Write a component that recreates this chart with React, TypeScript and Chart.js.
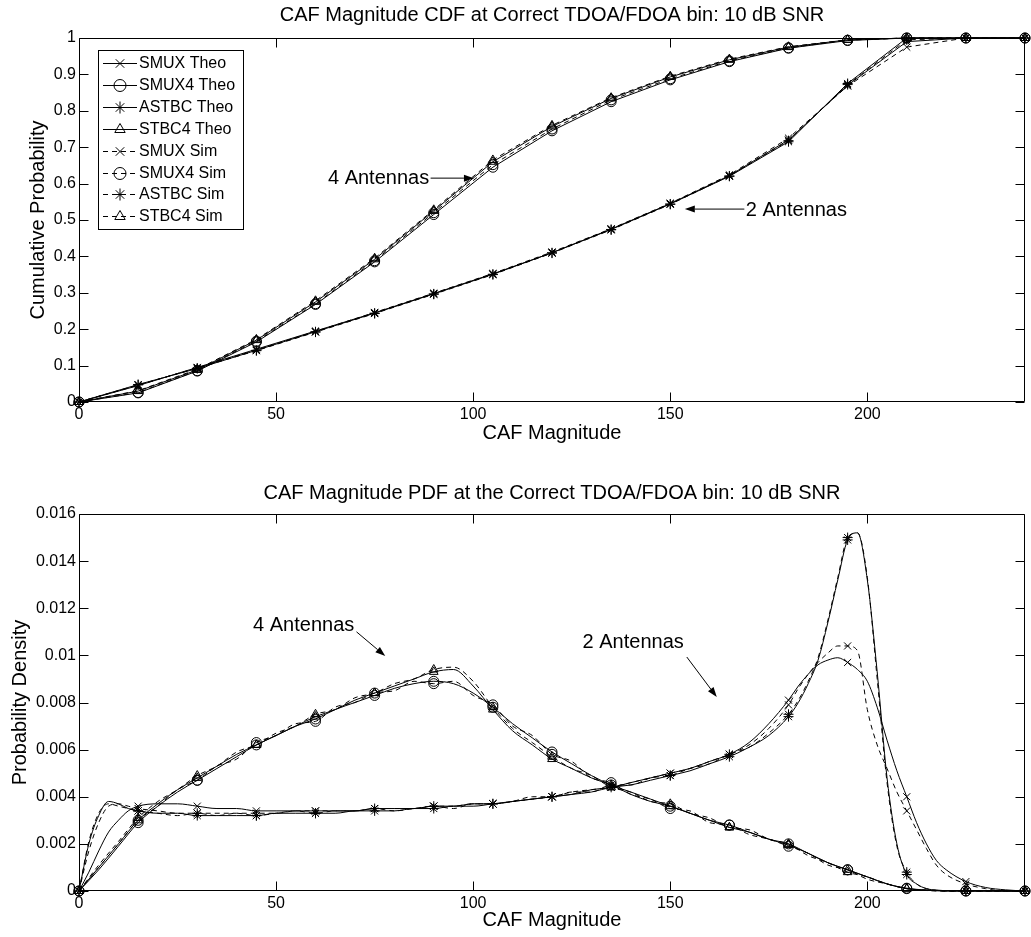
import React, { useEffect, useRef } from "react";
import { Chart, registerables } from "chart.js";
import { drawPoint } from "chart.js/helpers";

Chart.register(...registerables);

const FONT = '"Liberation Sans", Arial, Helvetica, sans-serif';

// ---------------- data ----------------
const xTickValues = [0, 50, 100, 150, 200];
const xTickLabels = ["0", "50", "100", "150", "200"];

const cdfYTickValues = [0, 0.1, 0.2, 0.3, 0.4, 0.5, 0.6, 0.7, 0.8, 0.9, 1];
const cdfYTickLabels = ["0", "0.1", "0.2", "0.3", "0.4", "0.5", "0.6", "0.7", "0.8", "0.9", "1"];

const pdfYTickValues = [0, 0.002, 0.004, 0.006, 0.008, 0.01, 0.012, 0.014, 0.016];
const pdfYTickLabels = ["0", "0.002", "0.004", "0.006", "0.008", "0.01", "0.012", "0.014", "0.016"];

const seriesLabels = ["SMUX Theo", "SMUX4 Theo", "ASTBC Theo", "STBC4 Theo", "SMUX Sim", "SMUX4 Sim", "ASTBC Sim", "STBC4 Sim"];

// CDF (markers every 15)
const cdfX = [0, 15, 30, 45, 60, 75, 90, 105, 120, 135, 150, 165, 180, 195, 210, 225, 240];
const cdfSmuxTheo = [0, 0.045, 0.095, 0.145, 0.195, 0.245, 0.298, 0.352, 0.41, 0.475, 0.545, 0.622, 0.72, 0.87, 0.99, 1, 1];
const cdfSmux4Theo = [0, 0.025, 0.085, 0.165, 0.268, 0.385, 0.515, 0.645, 0.745, 0.825, 0.885, 0.935, 0.972, 0.993, 1, 1, 1];
const cdfAstbcTheo = [0, 0.048, 0.092, 0.142, 0.193, 0.244, 0.297, 0.351, 0.41, 0.474, 0.544, 0.62, 0.715, 0.875, 1, 1, 1];
const cdfStbc4Theo = [0, 0.03, 0.088, 0.17, 0.275, 0.392, 0.525, 0.66, 0.757, 0.834, 0.893, 0.94, 0.975, 0.995, 1, 1, 1];
const cdfSmuxSim = [0, 0.046, 0.094, 0.143, 0.194, 0.246, 0.299, 0.353, 0.412, 0.476, 0.546, 0.624, 0.725, 0.868, 0.975, 1, 1];
const cdfSmux4Sim = [0, 0.026, 0.086, 0.167, 0.27, 0.388, 0.52, 0.652, 0.75, 0.83, 0.888, 0.937, 0.973, 0.994, 1, 1, 1];
const cdfAstbcSim = [0, 0.047, 0.093, 0.141, 0.192, 0.243, 0.296, 0.35, 0.409, 0.473, 0.543, 0.621, 0.718, 0.872, 0.995, 1, 1];
const cdfStbc4Sim = [0, 0.031, 0.09, 0.172, 0.278, 0.395, 0.528, 0.665, 0.76, 0.836, 0.895, 0.942, 0.976, 0.995, 1, 1, 1];

// PDF, 2 antennas (finer sampling near the sharp parts)
const pdfX2 = [0, 2.5, 5, 7.5, 10, 12.5, 15, 20, 25, 30, 35, 40, 45, 50, 55, 60, 65, 70, 75, 80, 85, 90, 95, 100, 105, 110, 115, 120, 125, 130, 135, 140, 145, 150, 155, 160, 165, 170, 175, 180, 182.5, 185, 187.5, 190, 192.5, 195, 197.5, 200, 202.5, 205, 207.5, 210, 212.5, 215, 217.5, 220, 225, 230, 235, 240];
const pdfSmuxTheo = [0, 0.0008, 0.0017, 0.0025, 0.0030, 0.0034, 0.0036, 0.0037, 0.0037, 0.0036, 0.0035, 0.0035, 0.0034, 0.0034, 0.0034, 0.0034, 0.0034, 0.0034, 0.0035, 0.0035, 0.0035, 0.0036, 0.0036, 0.0037, 0.0037, 0.0038, 0.0039, 0.0040, 0.0041, 0.0043, 0.0044, 0.0046, 0.0048, 0.0050, 0.0052, 0.0055, 0.0058, 0.0063, 0.0071, 0.0081, 0.0087, 0.0092, 0.0096, 0.0098, 0.0099, 0.0097, 0.0094, 0.0089, 0.0078, 0.0064, 0.0051, 0.0040, 0.0029, 0.0020, 0.0013, 0.0009, 0.0004, 0.00015, 0.00005, 0];
const pdfAstbcTheo = [0, 0.0020, 0.0032, 0.0038, 0.0037, 0.0035, 0.0034, 0.0033, 0.0033, 0.0032, 0.0032, 0.0032, 0.0032, 0.0033, 0.0033, 0.0033, 0.0033, 0.0034, 0.0034, 0.0034, 0.0035, 0.0035, 0.0036, 0.0036, 0.0037, 0.0038, 0.0039, 0.0040, 0.0041, 0.0042, 0.0044, 0.0045, 0.0047, 0.0049, 0.0051, 0.0054, 0.0057, 0.0061, 0.0066, 0.0074, 0.0080, 0.0088, 0.0098, 0.0114, 0.0132, 0.0149, 0.0152, 0.0132, 0.0093, 0.0048, 0.0020, 0.0007, 0.0003, 0.0001, 0.00004, 0.00001, 0, 0, 0, 0];
const pdfSmuxSim = [0, 0.0017, 0.0029, 0.0036, 0.0037, 0.0036, 0.0035, 0.0034, 0.0033, 0.0033, 0.0033, 0.0033, 0.0033, 0.0033, 0.0034, 0.0034, 0.0034, 0.0034, 0.0035, 0.0035, 0.0035, 0.0036, 0.0036, 0.0037, 0.0037, 0.0038, 0.0039, 0.0040, 0.0042, 0.0043, 0.0044, 0.0046, 0.0048, 0.0050, 0.0052, 0.0055, 0.0058, 0.0062, 0.0069, 0.0079, 0.0086, 0.0092, 0.0097, 0.0101, 0.0104, 0.0104, 0.0102, 0.0077, 0.0062, 0.0052, 0.0042, 0.0034, 0.0026, 0.0018, 0.0011, 0.0007, 0.0003, 0.0001, 0, 0];
const pdfAstbcSim = [0, 0.0021, 0.0033, 0.0037, 0.0036, 0.0035, 0.0034, 0.0033, 0.0032, 0.0033, 0.0032, 0.0033, 0.0032, 0.0033, 0.0034, 0.0033, 0.0034, 0.0034, 0.0035, 0.0034, 0.0035, 0.0036, 0.0035, 0.0037, 0.0037, 0.0038, 0.0040, 0.0040, 0.0042, 0.0042, 0.0045, 0.0045, 0.0048, 0.0049, 0.0052, 0.0054, 0.0058, 0.0061, 0.0067, 0.0075, 0.0081, 0.0089, 0.0099, 0.0115, 0.0133, 0.0150, 0.0152, 0.0133, 0.0090, 0.0046, 0.0019, 0.0008, 0.0003, 0.0001, 0.00003, 0, 0, 0, 0, 0];

// PDF, 4 antennas
const pdfX4 = [0, 5, 10, 15, 20, 25, 30, 35, 40, 45, 50, 55, 60, 65, 70, 75, 80, 85, 90, 95, 100, 105, 110, 115, 120, 125, 130, 135, 140, 145, 150, 155, 160, 165, 170, 175, 180, 185, 190, 195, 200, 205, 210, 215, 220, 225, 230, 235, 240];
const pdfSmux4Theo = [0, 0.0009, 0.0019, 0.0029, 0.0036, 0.0042, 0.0047, 0.0052, 0.0057, 0.0062, 0.0066, 0.0070, 0.0073, 0.0077, 0.0080, 0.0083, 0.0086, 0.0088, 0.0089, 0.0088, 0.0084, 0.0078, 0.0071, 0.0065, 0.0059, 0.0054, 0.0049, 0.0045, 0.0042, 0.0039, 0.0036, 0.0033, 0.0030, 0.0028, 0.0025, 0.0022, 0.0020, 0.0016, 0.0012, 0.0009, 0.0006, 0.0003, 0.00012, 0.00004, 0.00001, 0, 0, 0, 0];
const pdfStbc4Theo = [0, 0.0010, 0.0020, 0.0030, 0.0037, 0.0043, 0.0048, 0.0053, 0.0058, 0.0062, 0.0066, 0.0070, 0.0074, 0.0077, 0.0081, 0.0084, 0.0087, 0.0090, 0.0093, 0.0094, 0.0087, 0.0077, 0.0068, 0.0062, 0.0056, 0.0052, 0.0048, 0.0045, 0.0041, 0.0038, 0.0036, 0.0033, 0.0030, 0.0027, 0.0025, 0.0022, 0.00195, 0.0016, 0.0012, 0.0009, 0.0006, 0.0003, 0.0001, 0.00003, 0, 0, 0, 0, 0];
const pdfSmux4Sim = [0, 0.0010, 0.0020, 0.0030, 0.0036, 0.0043, 0.0047, 0.0053, 0.0056, 0.0063, 0.0066, 0.0071, 0.0072, 0.0078, 0.0080, 0.0084, 0.0085, 0.0089, 0.0088, 0.0089, 0.0083, 0.0079, 0.0070, 0.0066, 0.0058, 0.0055, 0.0048, 0.0046, 0.0041, 0.0039, 0.0035, 0.0034, 0.0029, 0.0028, 0.0024, 0.0022, 0.0019, 0.0016, 0.0011, 0.0009, 0.0005, 0.0003, 0.0001, 0.00004, 0, 0, 0, 0, 0];
const pdfStbc4Sim = [0, 0.0011, 0.0021, 0.0031, 0.0038, 0.0043, 0.0049, 0.0053, 0.0059, 0.0062, 0.0067, 0.0070, 0.0075, 0.0077, 0.0082, 0.0084, 0.0088, 0.0090, 0.0094, 0.0095, 0.0089, 0.0078, 0.0069, 0.0063, 0.0057, 0.0052, 0.0049, 0.0044, 0.0042, 0.0038, 0.0037, 0.0033, 0.0031, 0.0027, 0.0026, 0.0022, 0.0020, 0.0015, 0.0012, 0.0008, 0.0006, 0.0003, 0.0001, 0.00002, 0, 0, 0, 0, 0];

// annotation texts (positions in data units, kept separate)
const cdfNotes = [
  { text: "4 Antennas", tx: 76, ty: 0.613, ax0: 89.2, ay0: 0.615, ax1: 100.2, ay1: 0.615 },
  { text: "2 Antennas", tx: 182, ty: 0.527, ax0: 168.8, ay0: 0.53, ax1: 153.7, ay1: 0.53 },
];
const pdfNotes = [
  { text: "4 Antennas", tx: 57, ty: 0.01125, ax0: 70.4, ay0: 0.0110, ax1: 77.7, ay1: 0.00997 },
  { text: "2 Antennas", tx: 140.6, ty: 0.01053, ax0: 154.2, ay0: 0.00993, ax1: 161.8, ay1: 0.00823 },
];

// ---------------- helpers ----------------
const STYLE_OF = ["crossRot", "circle", "star", "triangle", "crossRot", "circle", "star", "triangle"];
const DASH_OF = [false, false, false, false, true, true, true, true];

function makeDataset(i: number, xs: number[], ys: number[], smooth: boolean) {
  return {
    label: seriesLabels[i],
    data: xs.map((x, k) => ({ x, y: ys[k] })),
    borderColor: "#000",
    borderWidth: 1,
    borderDash: DASH_OF[i] ? [5, 4] : [],
    pointStyle: STYLE_OF[i],
    pointRadius: (ctx: any) => {
      const p = ctx.raw;
      return p && p.x % 15 === 0 ? 5 : 0;
    },
    pointBorderColor: "#000",
    pointBackgroundColor: "rgba(0,0,0,0)",
    pointBorderWidth: 1,
    fill: false,
    tension: 0,
    cubicInterpolationMode: smooth ? "monotone" : "default",
    clip: false,
  };
}

const frameTicksPlugin = {
  id: "frameTicks",
  afterDatasetsDraw(chart: any) {
    const { ctx, chartArea: a, scales } = chart;
    ctx.save();
    ctx.strokeStyle = "#000";
    ctx.lineWidth = 1;
    ctx.setLineDash([]);
    const L = Math.round(a.left) + 0.5;
    const R = Math.round(a.right) - 0.5;
    const T = Math.round(a.top) + 0.5;
    const B = Math.round(a.bottom) - 0.5;
    ctx.beginPath();
    ctx.rect(L, T, R - L, B - T);
    ctx.stroke();
    const len = 9;
    ctx.beginPath();
    scales.x.ticks.forEach((t: any) => {
      const px = Math.round(scales.x.getPixelForValue(t.value)) + 0.5;
      ctx.moveTo(px, B);
      ctx.lineTo(px, B - len);
      ctx.moveTo(px, T);
      ctx.lineTo(px, T + len);
    });
    scales.y.ticks.forEach((t: any) => {
      const py = Math.round(scales.y.getPixelForValue(t.value)) + 0.5;
      ctx.moveTo(L, py);
      ctx.lineTo(L + len, py);
      ctx.moveTo(R, py);
      ctx.lineTo(R - len, py);
    });
    ctx.stroke();
    ctx.restore();
  },
};

function notesPlugin(notes: any[]) {
  return {
    id: "arrowNotes",
    afterDraw(chart: any) {
      const { ctx, scales } = chart;
      const xs = scales.x;
      const ys = scales.y;
      ctx.save();
      ctx.fillStyle = "#000";
      ctx.strokeStyle = "#000";
      ctx.lineWidth = 1;
      ctx.setLineDash([]);
      ctx.font = `20px ${FONT}`;
      ctx.textAlign = "center";
      ctx.textBaseline = "middle";
      for (const n of notes) {
        ctx.fillText(n.text, xs.getPixelForValue(n.tx), ys.getPixelForValue(n.ty));
        const x0 = xs.getPixelForValue(n.ax0);
        const y0 = ys.getPixelForValue(n.ay0);
        const x1 = xs.getPixelForValue(n.ax1);
        const y1 = ys.getPixelForValue(n.ay1);
        const ang = Math.atan2(y1 - y0, x1 - x0);
        const hl = 10;
        const hw = 3.5;
        const bx = x1 - hl * Math.cos(ang);
        const by = y1 - hl * Math.sin(ang);
        ctx.beginPath();
        ctx.moveTo(x0, y0);
        ctx.lineTo(bx, by);
        ctx.stroke();
        ctx.beginPath();
        ctx.moveTo(x1, y1);
        ctx.lineTo(bx - hw * Math.sin(ang), by + hw * Math.cos(ang));
        ctx.lineTo(bx + hw * Math.sin(ang), by - hw * Math.cos(ang));
        ctx.closePath();
        ctx.fill();
      }
      ctx.restore();
    },
  };
}

const legendPlugin = {
  id: "boxLegend",
  afterDraw(chart: any) {
    const { ctx } = chart;
    const left = 98.5;
    const top = 50.5;
    const w = 145;
    const h = 179;
    const first = 63;
    const step = 21.9;
    ctx.save();
    ctx.setLineDash([]);
    ctx.fillStyle = "#fff";
    ctx.fillRect(left, top, w, h);
    ctx.strokeStyle = "#000";
    ctx.lineWidth = 1;
    ctx.strokeRect(left, top, w, h);
    chart.data.datasets.forEach((d: any, i: number) => {
      const y = Math.round(first + step * i) + 0.5;
      ctx.strokeStyle = "#000";
      ctx.lineWidth = 1;
      ctx.setLineDash(d.borderDash || []);
      ctx.beginPath();
      ctx.moveTo(103, y);
      ctx.lineTo(137, y);
      ctx.stroke();
      ctx.setLineDash([]);
      ctx.fillStyle = "rgba(0,0,0,0)";
      drawPoint(ctx, { pointStyle: d.pointStyle, radius: 6, rotation: 0, borderWidth: 1 } as any, 120, y);
      ctx.fillStyle = "#000";
      ctx.font = `16px ${FONT}`;
      ctx.textAlign = "left";
      ctx.textBaseline = "middle";
      ctx.fillText(d.label, 139, y + 0.5);
    });
    ctx.restore();
  },
};

function buildConfig(p: any) {
  return {
    type: "line",
    data: { datasets: p.datasets },
    plugins: p.plugins,
    options: {
      responsive: false,
      animation: false,
      devicePixelRatio: 1,
      events: [],
      layout: { padding: { left: 0, right: 1, top: 0, bottom: 0 } },
      plugins: {
        legend: { display: false },
        tooltip: { enabled: false },
        title: {
          display: true,
          text: p.title,
          fullSize: false,
          color: "#000",
          font: { family: FONT, size: 20, weight: "normal", lineHeight: 1.2 },
          padding: { top: p.titlePadTop, bottom: p.titlePadBottom },
        },
      },
      scales: {
        x: {
          type: "linear",
          min: 0,
          max: 240,
          afterBuildTicks: (s: any) => {
            s.ticks = xTickValues.map((v) => ({ value: v }));
          },
          afterFit: (s: any) => {
            s.height = p.xAxisH;
          },
          ticks: {
            callback: (_v: any, i: number) => xTickLabels[i],
            color: "#000",
            font: { family: FONT, size: 16 },
            padding: 3,
            maxRotation: 0,
            autoSkip: false,
          },
          grid: { display: false, drawTicks: false },
          border: { display: false },
          title: {
            display: true,
            text: "CAF Magnitude",
            color: "#000",
            font: { family: FONT, size: 20, lineHeight: 1.2 },
            padding: { top: 0, bottom: p.xTitlePadBottom },
          },
        },
        y: {
          type: "linear",
          min: p.yMin,
          max: p.yMax,
          afterBuildTicks: (s: any) => {
            s.ticks = p.yTickValues.map((v: number) => ({ value: v }));
          },
          afterFit: (s: any) => {
            s.width = 79;
          },
          ticks: {
            callback: (_v: any, i: number) => p.yTickLabels[i],
            color: "#000",
            font: { family: FONT, size: 16 },
            padding: 3,
            autoSkip: false,
          },
          grid: { display: false, drawTicks: false },
          border: { display: false },
          title: {
            display: true,
            text: p.yTitle,
            color: "#000",
            font: { family: FONT, size: 20, lineHeight: 1.2 },
            padding: { top: p.yTitlePadTop, bottom: 0 },
          },
        },
      },
    },
  };
}

export default function App() {
  const topRef = useRef<HTMLCanvasElement>(null);
  const botRef = useRef<HTMLCanvasElement>(null);

  useEffect(() => {
    Chart.defaults.font.family = FONT;
    Chart.defaults.color = "#000";

    const cdfSeries = [cdfSmuxTheo, cdfSmux4Theo, cdfAstbcTheo, cdfStbc4Theo, cdfSmuxSim, cdfSmux4Sim, cdfAstbcSim, cdfStbc4Sim];
    const topDatasets = cdfSeries.map((ys, i) => makeDataset(i, cdfX, ys, false));

    const pdfSeries = [pdfSmuxTheo, pdfSmux4Theo, pdfAstbcTheo, pdfStbc4Theo, pdfSmuxSim, pdfSmux4Sim, pdfAstbcSim, pdfStbc4Sim];
    const pdfXs = [pdfX2, pdfX4, pdfX2, pdfX4, pdfX2, pdfX4, pdfX2, pdfX4];
    const botDatasets = pdfSeries.map((ys, i) => makeDataset(i, pdfXs[i], ys, true));

    const top = new Chart(
      topRef.current as HTMLCanvasElement,
      buildConfig({
        datasets: topDatasets,
        plugins: [frameTicksPlugin, notesPlugin(cdfNotes), legendPlugin],
        title: "CAF Magnitude CDF at Correct TDOA/FDOA bin: 10 dB SNR",
        titlePadTop: 3,
        titlePadBottom: 11,
        xAxisH: 45,
        xTitlePadBottom: 2,
        yMin: 0,
        yMax: 1,
        yTickValues: cdfYTickValues,
        yTickLabels: cdfYTickLabels,
        yTitle: "Cumulative Probability",
        yTitlePadTop: 26,
      }) as any
    );
    const bot = new Chart(
      botRef.current as HTMLCanvasElement,
      buildConfig({
        datasets: botDatasets,
        plugins: [frameTicksPlugin, notesPlugin(pdfNotes)],
        title: "CAF Magnitude PDF at the Correct TDOA/FDOA bin: 10 dB SNR",
        titlePadTop: 34,
        titlePadBottom: 9,
        xAxisH: 46,
        xTitlePadBottom: 5,
        yMin: 0,
        yMax: 0.016,
        yTickValues: pdfYTickValues,
        yTickLabels: pdfYTickLabels,
        yTitle: "Probability Density",
        yTitlePadTop: 8,
      }) as any
    );
    return () => {
      top.destroy();
      bot.destroy();
    };
  }, []);

  return (
    <div style={{ position: "absolute", left: 0, top: 0, width: 1031, height: 937, background: "#fff" }}>
      <canvas ref={topRef} width={1031} height={447} style={{ display: "block" }} />
      <canvas ref={botRef} width={1031} height={490} style={{ display: "block" }} />
    </div>
  );
}
